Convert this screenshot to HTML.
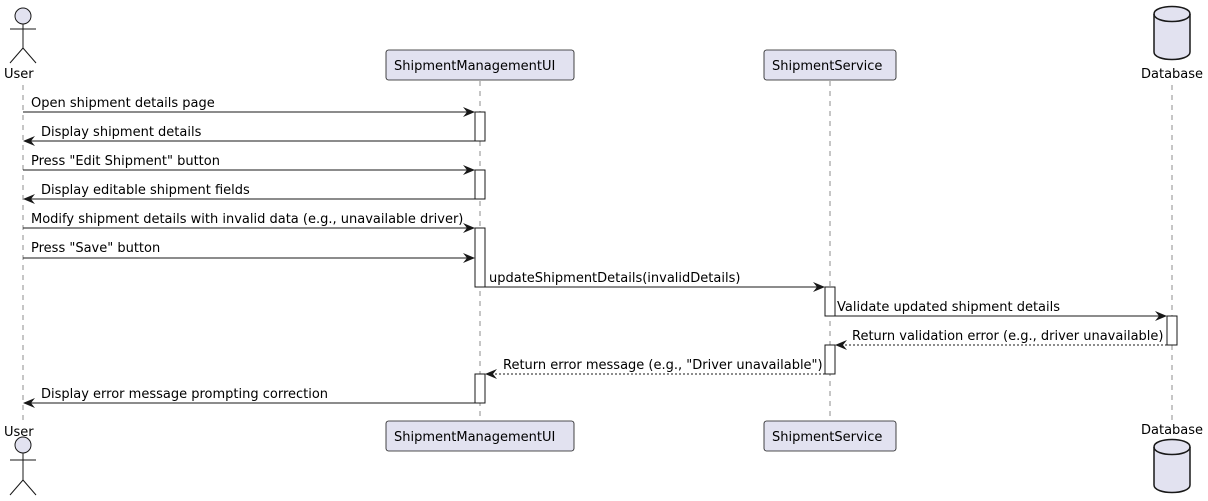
<!DOCTYPE html>
<html><head><meta charset="utf-8"><style>
html,body{margin:0;padding:0;background:#fff;width:1208px;height:501px;overflow:hidden}
text{font-family:"DejaVu Sans","Liberation Sans",sans-serif;font-size:13px;fill:#000}
</style></head><body>
<svg width="1208" height="501" viewBox="0 0 1208 501" xmlns="http://www.w3.org/2000/svg">
<defs>
<marker id="a" viewBox="0 0 12 10" refX="11" refY="5" markerWidth="12" markerHeight="10" orient="auto" markerUnits="userSpaceOnUse">
<path d="M0,0 L12,5 L0,10 L4,5 Z" fill="#181818"/></marker>
</defs>
<g stroke="#444" stroke-width="0.6" stroke-dasharray="5,5" fill="none">
<line x1="23" y1="85" x2="23" y2="420"/>
<line x1="480" y1="81" x2="480" y2="421"/>
<line x1="830" y1="81" x2="830" y2="421"/>
<line x1="1172" y1="85" x2="1172" y2="420"/>
</g>
<g stroke="#181818" stroke-width="1" fill="#E2E2F0">
<circle cx="23" cy="16" r="8"/>
<line x1="23" y1="24" x2="23" y2="48"/><line x1="10" y1="29" x2="36" y2="29"/>
<line x1="23" y1="48" x2="10" y2="63"/><line x1="23" y1="48" x2="36" y2="63"/>
<circle cx="23" cy="445" r="8"/>
<line x1="23" y1="453" x2="23" y2="480"/><line x1="10" y1="460" x2="36" y2="460"/>
<line x1="23" y1="480" x2="10" y2="495"/><line x1="23" y1="480" x2="36" y2="495"/>
</g>
<text x="4" y="78">User</text>
<text x="4" y="436">User</text>
<g stroke="#181818" stroke-width="0.8" fill="#E2E2F0">
<rect x="386" y="50" width="188" height="30" rx="2.5"/>
<rect x="764" y="50" width="132" height="30" rx="2.5"/>
<rect x="386" y="421" width="188" height="30" rx="2.5"/>
<rect x="764" y="421" width="132" height="30" rx="2.5"/>
</g>
<text x="394" y="70">ShipmentManagementUI</text>
<text x="772" y="70">ShipmentService</text>
<text x="394" y="441">ShipmentManagementUI</text>
<text x="772" y="441">ShipmentService</text>
<g stroke="#181818" stroke-width="1.5" fill="#E2E2F0">
<path d="M1154,14 C1154,4 1190,4 1190,14 L1190,52 C1190,62 1154,62 1154,52 Z"/>
<path d="M1154,14 C1154,24 1190,24 1190,14" fill="none"/>
<path d="M1154,447 C1154,437 1190,437 1190,447 L1190,485 C1190,495 1154,495 1154,485 Z"/>
<path d="M1154,447 C1154,457 1190,457 1190,447" fill="none"/>
</g>
<text x="1141" y="78">Database</text>
<text x="1141" y="434">Database</text>
<g stroke="#181818" stroke-width="1" fill="#fff">
<rect x="475" y="112" width="10" height="29"/>
<rect x="475" y="170" width="10" height="29"/>
<rect x="475" y="228" width="10" height="59"/>
<rect x="475" y="374" width="10" height="29"/>
<rect x="825" y="287" width="10" height="29"/>
<rect x="825" y="345" width="10" height="29"/>
<rect x="1167" y="316" width="10" height="29"/>
</g>
<g stroke="#181818" stroke-width="1" fill="none" marker-end="url(#a)">
<line x1="23" y1="112" x2="474" y2="112"/>
<line x1="475" y1="141" x2="24" y2="141"/>
<line x1="23" y1="170" x2="474" y2="170"/>
<line x1="475" y1="199" x2="24" y2="199"/>
<line x1="23" y1="228" x2="474" y2="228"/>
<line x1="23" y1="258" x2="474" y2="258"/>
<line x1="485" y1="287" x2="824" y2="287"/>
<line x1="835" y1="316" x2="1166" y2="316"/>
<line x1="1167" y1="345" x2="836" y2="345" stroke-dasharray="2,2"/>
<line x1="825" y1="374" x2="486" y2="374" stroke-dasharray="2,2"/>
<line x1="475" y1="403" x2="24" y2="403"/>
</g>
<text x="31" y="107">Open shipment details page</text>
<text x="41" y="136">Display shipment details</text>
<text x="31" y="165">Press "Edit Shipment" button</text>
<text x="41" y="194">Display editable shipment fields</text>
<text x="31" y="223">Modify shipment details with invalid data (e.g., unavailable driver)</text>
<text x="31" y="252">Press "Save" button</text>
<text x="489" y="282">updateShipmentDetails(invalidDetails)</text>
<text x="837" y="311">Validate updated shipment details</text>
<text x="852" y="340">Return validation error (e.g., driver unavailable)</text>
<text x="503" y="369">Return error message (e.g., "Driver unavailable")</text>
<text x="41" y="398">Display error message prompting correction</text>
</svg>
</body></html>
